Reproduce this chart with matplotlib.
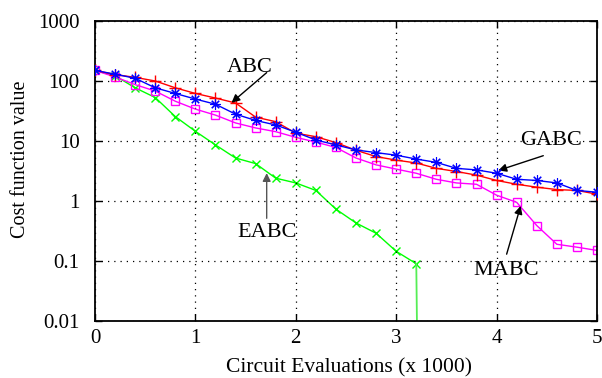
import matplotlib
matplotlib.use("Agg")
import matplotlib.pyplot as plt
import numpy as np

evals = [0.0, 0.2, 0.4, 0.6, 0.8, 1.0, 1.2, 1.4, 1.6, 1.8, 2.0, 2.2, 2.4,
         2.6, 2.8, 3.0, 3.2, 3.4, 3.6, 3.8, 4.0, 4.2, 4.4, 4.6, 4.8, 5.0]

abc = [150, 128, 115, 100, 77, 62, 52, 43, 25, 21, 13.5, 11.8, 9.4,
       7.0, 5.5, 4.8, 4.3, 3.5, 3.1, 2.7, 2.2, 1.9, 1.7, 1.55, 1.5, 1.3]
gabc = [150, 130, 111, 77, 62, 50, 41, 28, 22, 18.5, 14, 10.4, 8.6,
        7.1, 6.4, 5.8, 5.0, 4.4, 3.5, 3.3, 2.9, 2.3, 2.2, 2.0, 1.5, 1.4]
mabc = [150, 117, 87, 68, 46, 34, 27, 20, 16.5, 14.3, 11.5, 9.6, 7.8,
        5.2, 4.0, 3.4, 2.9, 2.3, 2.0, 1.9, 1.25, 0.95, 0.39, 0.19, 0.17, 0.15]
eabc_x = [0.0, 0.2, 0.4, 0.6, 0.8, 1.0, 1.2, 1.4, 1.6, 1.8, 2.0, 2.2, 2.4,
          2.6, 2.8, 3.0, 3.2, 3.22]
eabc = [150, 122, 77, 53, 25.5, 14.5, 8.6, 5.2, 4.2, 2.4, 2.0, 1.5, 0.73,
        0.43, 0.29, 0.145, 0.09, 1e-4]

xticks = [0, 1, 2, 3, 4, 5]
yticks = [0.01, 0.1, 1, 10, 100, 1000]
ytick_labels = ["0.01", "0.1", "1", "10", "100", "1000"]

plt.rcParams['font.family'] = ['Liberation Serif', 'DejaVu Serif']

fig = plt.figure(figsize=(6.02, 3.78), dpi=100)
ax = fig.add_axes([95/602, 1-321/378, (597-95)/602, (321-21)/378])

ax.plot(evals, abc, color='#ff0000', lw=1, marker='+', ms=8, mew=1, zorder=3)
ax.plot(evals, gabc, color='#0000ff', lw=1, marker=(8, 2, 0), ms=7.5, mew=0.8, zorder=4)
ax.plot(evals, mabc, color='#ff00ff', lw=1, marker='s', ms=6, mfc='none', mew=1, zorder=2)
ax.plot(eabc_x[:-1], eabc[:-1], color='#00ff00', lw=1, marker='x', ms=6, mew=1, zorder=1)
ax.plot(eabc_x[-2:], eabc[-2:], color='#55ee55', lw=1.3, zorder=1)

ax.set_yscale('log')
ax.set_xlim(0, 5)
ax.set_ylim(0.01, 1000)
ax.set_xticks(xticks)
ax.set_xticklabels([str(t) for t in xticks])
ax.set_yticks(yticks)
ax.set_yticklabels(ytick_labels)
ax.minorticks_off()
ax.tick_params(direction='in', length=5, width=1, labelsize=15, top=True, right=True)
ax.tick_params(axis='y', pad=11)
ax.tick_params(axis='x', pad=6)
for s in ax.spines.values():
    s.set_linewidth(1.3)
ax.grid(True, color='black', linestyle=(0, (1, 4)), linewidth=0.9)

fig.text(348.5/602, 1-368/378, "Circuit Evaluations (x 1000)", ha='center', va='center', fontsize=15.5)
fig.text(21/602, 1-159/378, "Cost function value", ha='center', va='center', rotation=90, fontsize=14.5)

arrowprops = dict(arrowstyle='-|>', color='black', lw=1, mutation_scale=12, shrinkA=0, shrinkB=0)
ax.annotate('', xy=(1.36, 43.5), xytext=(1.71, 138), arrowprops=arrowprops)
ax.text(1.544, 170, "ABC", ha='center', va='center', fontsize=16)
ax.annotate('', xy=(4.017, 3.23), xytext=(4.465, 5.69), arrowprops=arrowprops)
ax.text(4.54, 10.2, "GABC", ha='center', va='center', fontsize=16)
ax.annotate('', xy=(1.71, 2.92), xytext=(1.71, 0.515),
            arrowprops=dict(arrowstyle='-|>', color='#555555', lw=1, mutation_scale=12, shrinkA=0, shrinkB=0))
ax.text(1.713, 0.303, "EABC", ha='center', va='center', fontsize=16)
ax.annotate('', xy=(4.24, 0.83), xytext=(4.10, 0.13), arrowprops=arrowprops)
ax.text(4.10, 0.070, "MABC", ha='center', va='center', fontsize=16)

fig.savefig("out.png", dpi=100)
